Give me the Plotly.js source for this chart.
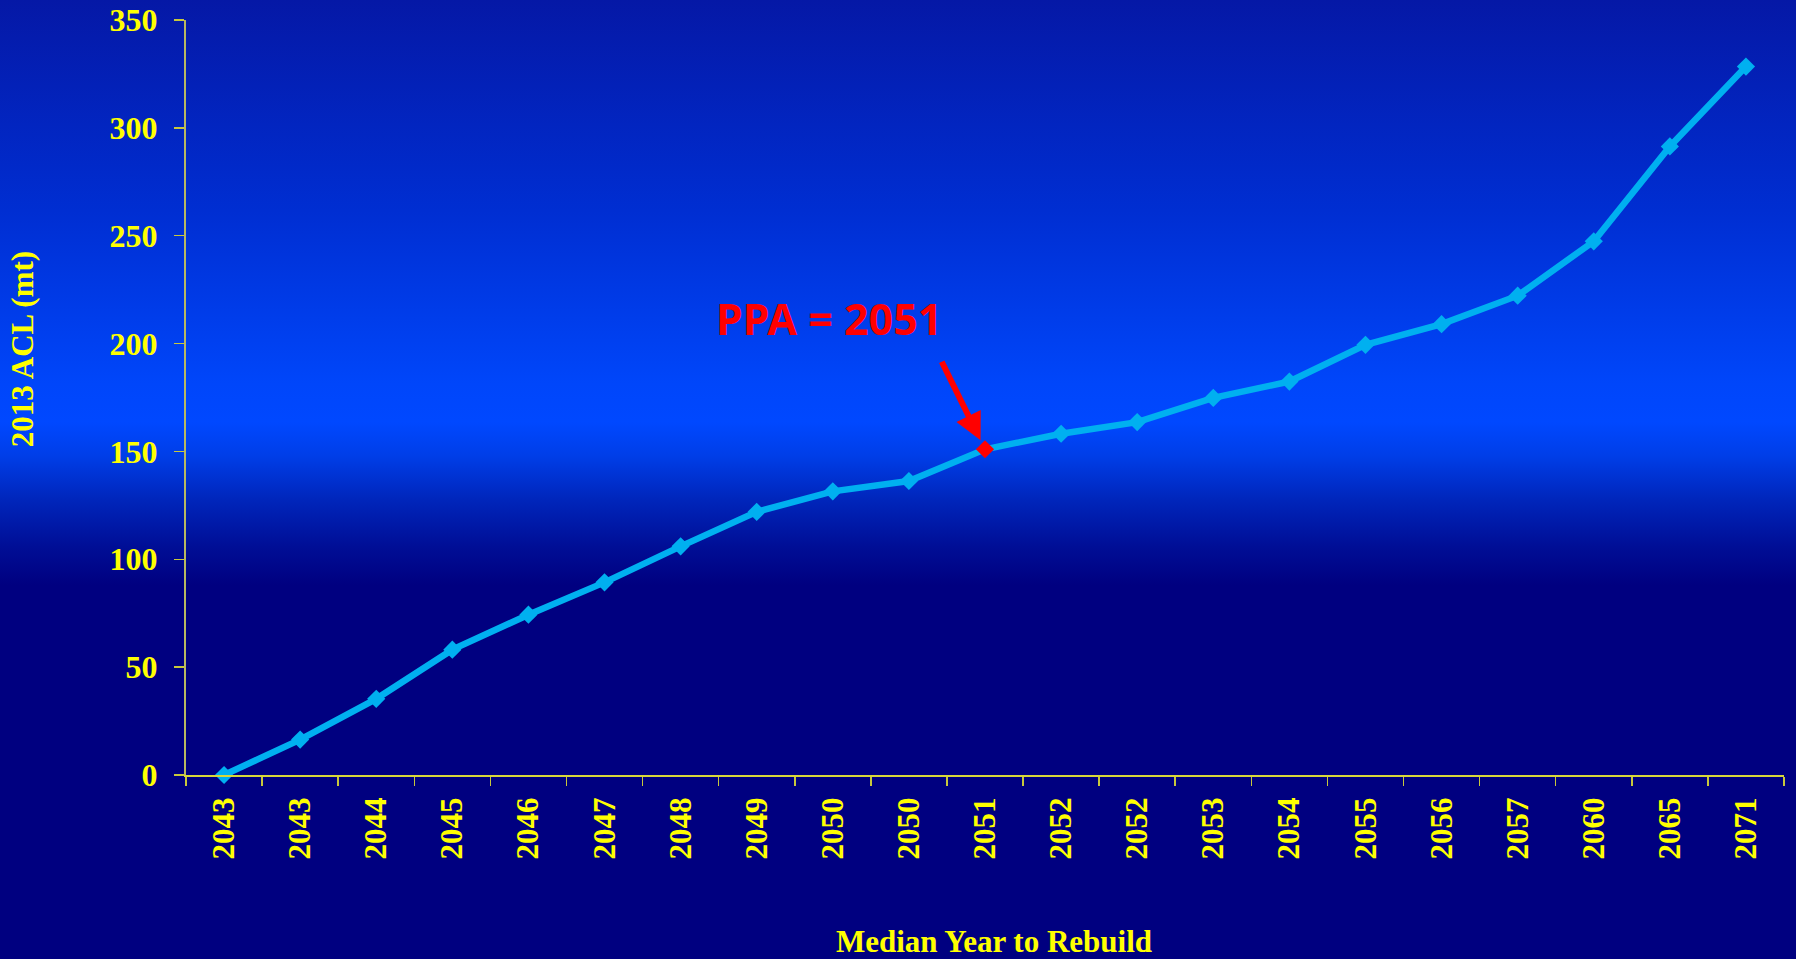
<!DOCTYPE html>
<html>
<head>
<meta charset="utf-8">
<script src="https://cdn.plot.ly/plotly-3.0.1.min.js"></script>
<style>
  html, body { margin: 0; padding: 0; }
  #chart {
    width: 1796px; height: 959px;
    background: linear-gradient(to bottom,
      #0518a6 0%, #002ed2 22%, #0046fa 40%, #0048ff 44%,
      #003ee8 47.5%, #0026bc 52%, #000e96 57%, #000080 61%, #000080 100%);
  }
</style>
</head>
<body>
<div id="chart"></div>
<script>
// Category tick labels (median year to rebuild)
const yearLabels = ["2043","2043","2044","2045","2046","2047","2048","2049","2050","2050",
                    "2051","2052","2052","2053","2054","2055","2056","2057","2060","2065","2071"];
// 2013 ACL (mt)
const aclValues = [0, 16.4, 35.3, 58.1, 74.3, 89.3, 106, 122, 131.5, 136.3,
                   151, 158.2, 163.6, 174.8, 182.4, 199.4, 209, 222.2, 247.4, 291.4, 328.4];
const ppaIndex = 10;
const ppaText = "PPA = 2051";
const xTitle = "Median Year to Rebuild";
const yTitle = "2013 ACL (mt)";

const xIdx = yearLabels.map((_, i) => i);
const markerColors = xIdx.map(i => i === ppaIndex ? "#ff0000" : "#00b0f0");

const serif = "'Liberation Serif', 'Times New Roman', serif";
const yellow = "#ffff00";

const trace = {
  type: "scatter",
  mode: "lines+markers",
  x: xIdx,
  y: aclValues,
  line: { color: "#00b0f0", width: 6.5 },
  marker: { symbol: "diamond", size: 14, color: markerColors },
  hoverinfo: "skip",
  cliponaxis: false
};

const layout = {
  width: 1796, height: 959,
  paper_bgcolor: "rgba(0,0,0,0)",
  plot_bgcolor: "rgba(0,0,0,0)",
  margin: { l: 186, r: 12, t: 20, b: 184 },
  showlegend: false,
  xaxis: {
    type: "category",
    range: [-0.5, 20.5],
    tickmode: "array",
    tickvals: xIdx,
    ticktext: yearLabels,
    tickson: "boundaries",
    ticks: "outside",
    ticklen: 9,
    tickwidth: 1.5,
    tickcolor: "#c8c83c",
    tickangle: -90,
    ticklabelstandoff: 8,
    tickfont: { family: serif, size: 31, color: yellow, weight: "bold" },
    showline: true,
    linecolor: "#d8d83a",
    linewidth: 2,
    showgrid: false,
    zeroline: false
  },
  yaxis: {
    range: [0, 350],
    tickmode: "linear",
    tick0: 0,
    dtick: 50,
    ticks: "outside",
    ticklen: 10,
    tickwidth: 1.5,
    tickcolor: "#c8c83c",
    ticklabelstandoff: 10,
    tickfont: { family: serif, size: 32, color: yellow, weight: "bold" },
    showline: true,
    linecolor: "#b8b860",
    linewidth: 2,
    showgrid: false,
    zeroline: false
  },
  annotations: [
    {
      x: ppaIndex, y: aclValues[ppaIndex], xref: "x", yref: "y",
      text: "", showarrow: true,
      ax: -44, ay: -89,
      arrowcolor: "#ff0000", arrowwidth: 6, arrowhead: 2, arrowsize: 0.9,
      standoff: 10
    },
    {
      x: ppaIndex, y: aclValues[ppaIndex], xref: "x", yref: "y",
      text: "<b>" + ppaText + "</b>", showarrow: false,
      xshift: -156, yshift: 131,
      font: { family: "'Noto Sans', 'Open Sans', sans-serif", size: 43, color: "#ff0000" }
    },
    {
      x: 0.5056, y: -0.2199, xref: "paper", yref: "paper",
      xanchor: "center", yanchor: "middle",
      text: "<b>" + xTitle + "</b>", showarrow: false,
      font: { family: serif, size: 31, color: yellow }
    },
    {
      x: -0.1026, y: 0.564, xref: "paper", yref: "paper",
      xanchor: "center", yanchor: "middle", textangle: -90,
      text: "<b>" + yTitle + "</b>", showarrow: false,
      font: { family: serif, size: 31, color: yellow }
    }
  ]
};

Plotly.newPlot("chart", [trace], layout, { displayModeBar: false, staticPlot: true });
</script>
</body>
</html>
